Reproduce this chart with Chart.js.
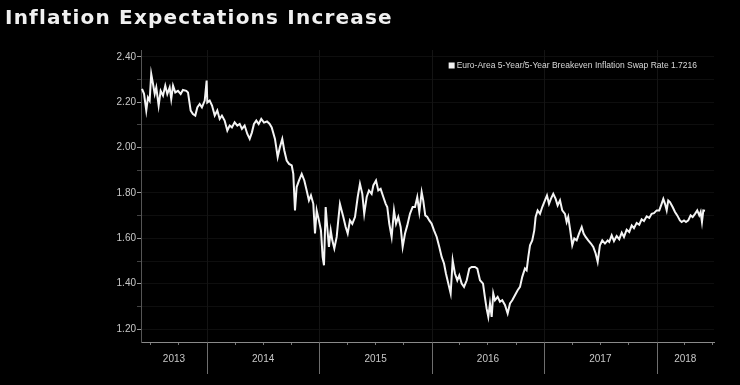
<!DOCTYPE html>
<html>
<head>
<meta charset="utf-8">
<script src="https://cdn.jsdelivr.net/npm/chart.js@4.4.1/dist/chart.umd.min.js"></script>
<style>
  html, body { margin: 0; padding: 0; background: #000; }
  #wrap { width: 740px; height: 385px; }
</style>
</head>
<body>
<div id="wrap"><canvas id="myChart" width="740" height="385"></canvas></div>
<script>
// chart title + series name
const chartTitle = 'Inflation Expectations Increase';
const seriesName = 'Euro-Area 5-Year/5-Year Breakeven Inflation Swap Rate';

// time as decimal year, rate in %
const years = [
  2013.422,2013.440,2013.460,2013.475,2013.490,2013.504,2013.520,2013.535,2013.549,2013.570,
  2013.588,2013.609,2013.629,2013.647,2013.668,2013.682,2013.698,2013.718,2013.742,2013.766,
  2013.786,2013.816,2013.831,2013.855,2013.875,2013.896,2013.914,2013.935,2013.955,2013.980,
  2013.997,
  2014.003,2014.024,2014.045,2014.069,2014.092,2014.113,2014.133,2014.157,2014.181,2014.202,
  2014.222,2014.246,2014.270,2014.291,2014.311,2014.335,2014.359,2014.380,2014.400,2014.418,
  2014.439,2014.460,2014.483,2014.507,2014.534,2014.556,2014.576,2014.605,2014.629,2014.649,
  2014.670,2014.688,2014.709,2014.730,2014.754,2014.768,2014.783,2014.798,2014.819,2014.843,
  2014.866,2014.887,2014.907,2014.925,2014.946,2014.961,2014.976,2014.996,
  2015.014,2015.029,2015.041,2015.056,2015.070,2015.085,2015.101,2015.115,2015.133,2015.154,
  2015.168,2015.183,2015.198,2015.213,2015.234,2015.252,2015.272,2015.293,2015.317,2015.341,
  2015.361,2015.382,2015.399,2015.421,2015.441,2015.465,2015.480,2015.504,2015.524,2015.545,
  2015.569,2015.590,2015.604,2015.622,2015.643,2015.664,2015.682,2015.702,2015.723,2015.741,
  2015.762,2015.782,2015.806,2015.830,2015.851,2015.871,2015.889,2015.910,2015.924,2015.942,
  2015.960,2015.978,2015.999,
  2016.020,2016.044,2016.067,2016.088,2016.109,2016.126,2016.147,2016.168,2016.186,2016.206,
  2016.227,2016.245,2016.266,2016.287,2016.311,2016.334,2016.355,2016.384,2016.405,2016.429,
  2016.456,2016.473,2016.488,2016.503,2016.518,2016.533,2016.547,2016.562,2016.586,2016.607,
  2016.627,2016.651,2016.675,2016.696,2016.716,2016.740,2016.764,2016.785,2016.805,2016.829,
  2016.844,2016.859,2016.874,2016.894,2016.912,2016.924,2016.942,2016.963,2016.983,
  2017.007,2017.025,2017.043,2017.060,2017.081,2017.102,2017.120,2017.141,2017.161,2017.185,
  2017.200,2017.214,2017.232,2017.250,2017.268,2017.289,2017.310,2017.334,2017.351,2017.369,
  2017.392,2017.416,2017.437,2017.458,2017.476,2017.496,2017.517,2017.541,2017.565,2017.579,
  2017.601,2017.621,2017.645,2017.668,2017.690,2017.710,2017.734,2017.757,2017.779,2017.799,
  2017.823,2017.846,2017.867,2017.888,2017.912,2017.935,2017.956,2017.977,
  2018.001,2018.024,2018.045,2018.060,2018.075,2018.090,2018.104,2018.119,2018.143,2018.164,
  2018.184,2018.208,2018.223,2018.244,2018.262,2018.282,2018.303,2018.321,2018.342,2018.362,
  2018.380,2018.392,2018.404,2018.416,2018.431
];

const rates = [
  2.259,2.237,2.163,2.221,2.207,2.324,2.280,2.236,2.265,2.185,
  2.250,2.229,2.273,2.236,2.265,2.214,2.273,2.243,2.250,2.236,
  2.254,2.250,2.243,2.163,2.148,2.141,2.177,2.192,2.177,2.207,
  2.295,
  2.199,2.207,2.185,2.141,2.163,2.126,2.141,2.119,2.075,2.097,
  2.089,2.111,2.097,2.104,2.082,2.097,2.060,2.038,2.067,2.104,
  2.119,2.104,2.126,2.110,2.115,2.105,2.089,2.038,1.958,2.002,
  2.038,1.987,1.943,1.928,1.921,1.884,1.723,1.826,1.855,1.884,
  1.855,1.811,1.767,1.789,1.752,1.621,1.723,1.679,
  1.635,1.518,1.481,1.738,1.650,1.562,1.635,1.591,1.555,1.606,
  1.679,1.752,1.723,1.694,1.650,1.621,1.679,1.664,1.694,1.782,
  1.840,1.796,1.708,1.782,1.811,1.796,1.833,1.855,1.811,1.818,
  1.782,1.752,1.738,1.664,1.606,1.723,1.664,1.694,1.650,1.562,
  1.621,1.657,1.708,1.738,1.738,1.782,1.716,1.804,1.767,1.701,
  1.694,1.679,1.664,
  1.635,1.606,1.562,1.518,1.489,1.445,1.401,1.357,1.503,1.445,
  1.415,1.437,1.401,1.386,1.415,1.467,1.474,1.474,1.467,1.415,
  1.400,1.340,1.290,1.254,1.313,1.254,1.357,1.327,1.342,1.320,
  1.327,1.306,1.269,1.313,1.327,1.349,1.371,1.386,1.430,1.467,
  1.459,1.518,1.569,1.591,1.635,1.694,1.723,1.708,1.738,
  1.767,1.789,1.752,1.774,1.796,1.774,1.745,1.767,1.723,1.708,
  1.672,1.694,1.635,1.569,1.599,1.591,1.621,1.650,1.621,1.606,
  1.591,1.577,1.562,1.533,1.496,1.569,1.591,1.577,1.591,1.584,
  1.613,1.588,1.610,1.596,1.625,1.606,1.638,1.628,1.657,1.645,
  1.668,1.660,1.684,1.676,1.697,1.690,1.708,1.711,
  1.723,1.723,1.752,1.774,1.752,1.723,1.767,1.760,1.738,1.716,
  1.701,1.679,1.672,1.679,1.672,1.679,1.701,1.694,1.708,1.723,
  1.701,1.716,1.672,1.723,1.7216
];

// axis labels
const yearLabels = ['2013', '2014', '2015', '2016', '2017', '2018'];
const yTickValues = [1.2, 1.3, 1.4, 1.5, 1.6, 1.7, 1.8, 1.9, 2.0, 2.1, 2.2, 2.3, 2.4];

const xMin = 2013.413, xMax = 2018.511;

// x ticks: quarter marks plus a label tick in the middle of each visible year
const quarterTicks = [];
for (let q = Math.ceil(xMin * 4); q <= Math.floor(xMax * 4); q++) {
  if (q % 4 !== 0) quarterTicks.push(q / 4);
}
const labelTicks = yearLabels.map(function (yl) {
  const y0 = Math.max(+yl, xMin), y1 = Math.min(+yl + 1, xMax);
  return { value: (y0 + y1) / 2, label: yl };
});

const yearLines = {
  id: 'yearLines',
  beforeDatasetsDraw(chart) {
    const { ctx, chartArea, scales } = chart;
    ctx.save();
    ctx.strokeStyle = '#141414';
    ctx.lineWidth = 1;
    yearLabels.slice(1).forEach(function (yl) {
      const px = Math.round(scales.x.getPixelForValue(+yl)) + 0.5;
      ctx.beginPath();
      ctx.moveTo(px, chartArea.top);
      ctx.lineTo(px, chartArea.bottom);
      ctx.stroke();
    });
    ctx.restore();
  },
  afterDraw(chart) {
    const { ctx, chartArea, scales } = chart;
    ctx.save();
    ctx.strokeStyle = '#6e6e6e';
    ctx.lineWidth = 1;
    yearLabels.slice(1).forEach(function (yl) {
      const px = Math.round(scales.x.getPixelForValue(+yl)) + 0.5;
      ctx.beginPath();
      ctx.moveTo(px, chartArea.bottom);
      ctx.lineTo(px, chartArea.bottom + 32);
      ctx.stroke();
    });
    ctx.restore();
  }
};

// title drawn above the plot, a bit letter-spaced like the original
const titlePlugin = {
  id: 'wideTitle',
  afterDraw(chart) {
    const ctx = chart.ctx;
    ctx.save();
    ctx.font = 'bold 20px "DejaVu Sans"';
    if ('letterSpacing' in ctx) ctx.letterSpacing = '1.2px';
    ctx.fillStyle = '#f0f0f0';
    ctx.textBaseline = 'middle';
    ctx.fillText(chartTitle, 5, 19);
    ctx.restore();
  }
};

const cornerLegend = {
  id: 'cornerLegend',
  afterDatasetsDraw(chart) {
    const { ctx, chartArea } = chart;
    const text = chart.data.datasets[0].label;
    ctx.save();
    ctx.font = '8.5px "Liberation Sans", Arial, sans-serif';
    ctx.textBaseline = 'middle';
    const w = ctx.measureText(text).width;
    const right = chartArea.right - 17;
    const y = chartArea.top + 15.5;
    ctx.fillStyle = '#f0f0f0';
    ctx.fillRect(right - w - 8, y - 3, 6, 6);
    ctx.fillStyle = '#d8d8d8';
    ctx.fillText(text, right - w, y);
    ctx.restore();
  }
};

let ctx = document.getElementById('myChart').getContext('2d');

const data = {
  datasets: [{
    label: seriesName + ' ' + rates[rates.length - 1].toFixed(4),
    data: years.map(function (yr, i) { return { x: yr, y: rates[i] }; }),
    borderColor: '#f4f4f4',
    borderWidth: 2,
    pointRadius: 0,
    tension: 0,
    fill: false
  }]
};

const config = {
  type: 'line',
  data: data,
  options: {
    responsive: false,
    animation: false,
    layout: { padding: { left: 5, right: 26, top: 50, bottom: 0 } },
    plugins: {
      legend: { display: false },
      tooltip: { enabled: false },
      title: { display: false }
    },
    scales: {
      x: {
        type: 'linear',
        min: xMin,
        max: xMax,
        afterBuildTicks: function (scale) {
          const t = quarterTicks.map(function (v) { return { value: v }; });
          labelTicks.forEach(function (lt) {
            const hit = t.find(function (o) { return Math.abs(o.value - lt.value) < 1e-6; });
            if (hit) hit.yearLabel = lt.label;
            else t.push({ value: lt.value, yearLabel: lt.label, noMark: true });
          });
          t.sort(function (a, b) { return a.value - b.value; });
          scale.ticks = t;
        },
        afterFit: function (scale) { scale.height = 43; },
        ticks: {
          autoSkip: false,
          maxRotation: 0,
          padding: 8,
          color: '#c8c8c8',
          font: { family: 'Liberation Sans', size: 10 },
          callback: function (v, i, ticks) { return ticks[i].yearLabel || ''; }
        },
        grid: {
          drawOnChartArea: false,
          tickLength: 3,
          tickColor: function (c) { return c.tick && c.tick.noMark ? 'rgba(0,0,0,0)' : '#777'; }
        },
        border: { color: '#8a8a8a', width: 1 }
      },
      y: {
        min: 1.143,
        max: 2.43,
        afterBuildTicks: function (scale) {
          scale.ticks = yTickValues.map(function (v) { return { value: v }; });
        },
        afterFit: function (scale) { scale.width = 136; },
        ticks: {
          padding: 1,
          color: '#c8c8c8',
          font: { family: 'Liberation Sans', size: 10 },
          callback: function (v) {
            return Math.round(v * 10) % 2 === 0 ? v.toFixed(2) : '';
          }
        },
        grid: {
          color: '#0e0e0e',
          tickLength: 4,
          tickColor: function (c) {
            return c.tick && Math.round(c.tick.value * 10) % 2 === 0 ? '#9a9a9a' : '#444';
          }
        },
        border: { color: '#555', width: 1 }
      }
    }
  },
  plugins: [yearLines, cornerLegend, titlePlugin]
};

let chart = new Chart(ctx, config);
</script>
</body>
</html>
